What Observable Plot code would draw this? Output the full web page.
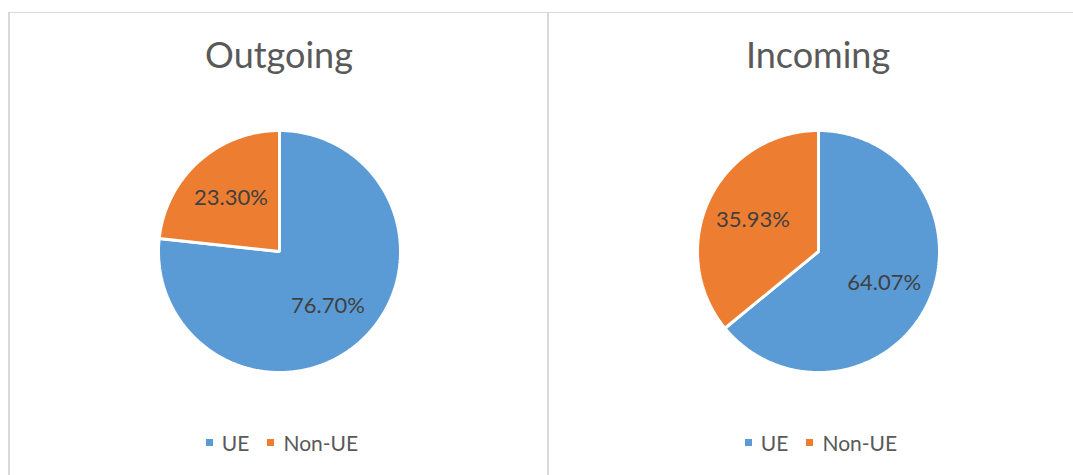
<!DOCTYPE html>
<html>
<head>
<meta charset="utf-8">
<script src="https://cdn.jsdelivr.net/npm/d3@7"></script>
<script src="https://cdn.jsdelivr.net/npm/@observablehq/plot@0.6"></script>
<style>
  html, body { margin: 0; padding: 0; background: #fff; }
  body { width: 1073px; height: 475px; overflow: hidden; position: relative; font-family: Lato, "Open Sans", sans-serif; }
  .panel { position: absolute; top: 12px; width: 540px; height: 480px; border-left: 2px solid #d9d9d9; border-top: 1px solid #d9d9d9; box-sizing: border-box; }
  .title { position: absolute; left: 0; width: 538px; top: 19px; text-align: center; font-size: 36px; color: #595959; }
  .chart { position: absolute; left: 0; top: 108px; }
  .legend { position: absolute; left: 3px; width: 538px; top: 412px; text-align: center; font-size: 21px; color: #595959; }
  .legend span.item { display: inline-flex; align-items: center; margin: 0 9px; }
  .legend span.sw { display: inline-block; width: 7px; height: 7px; margin-right: 9px; }
</style>
</head>
<body>
<script>
const categories = ["UE", "Non-UE"];
const colors = ["#5B9BD5", "#ED7D31"];
const titles = ["Outgoing", "Incoming"];
const outgoing = [76.70, 23.30];
const incoming = [64.07, 35.93];
const seriesValues = [outgoing, incoming];

const W = 538, H = 260, R = 121;

function pieChart(values) {
  const arcs = d3.pie().sort(null).value(d => d)(values);
  const pts = [];
  const labels = [];
  arcs.forEach((a, i) => {
    const cat = categories[i];
    pts.push({cat, x: 0, y: 0});
    const n = Math.max(4, Math.ceil((a.endAngle - a.startAngle) / 0.01));
    for (let k = 0; k <= n; k++) {
      const t = a.startAngle + (a.endAngle - a.startAngle) * k / n;
      pts.push({cat, x: Math.sin(t), y: Math.cos(t)});
    }
    const m = (a.startAngle + a.endAngle) / 2;
    labels.push({cat, x: 0.6 * Math.sin(m), y: 0.6 * Math.cos(m), text: values[i].toFixed(2) + "%"});
  });
  return Plot.plot({
    width: W, height: H,
    margin: 0,
    x: {domain: [-(W / 2) / R, (W / 2) / R], axis: null},
    y: {domain: [-(H / 2) / R, (H / 2) / R], axis: null},
    color: {domain: categories, range: colors},
    marks: [
      Plot.line(pts, {x: "x", y: "y", z: "cat", fill: "cat", stroke: "white", strokeWidth: 3, curve: "linear-closed", strokeLinejoin: "miter"}),
      Plot.text(labels, {x: "x", y: "y", text: "text", fill: "#404040", fontSize: 22, fontFamily: "Lato, sans-serif"})
    ]
  });
}

titles.forEach((t, p) => {
  const panel = document.createElement("div");
  panel.className = "panel";
  panel.style.left = (8 + p * 539) + "px";
  const title = document.createElement("div");
  title.className = "title";
  title.textContent = t;
  panel.appendChild(title);
  const chart = document.createElement("div");
  chart.className = "chart";
  chart.appendChild(pieChart(seriesValues[p]));
  panel.appendChild(chart);
  const legend = document.createElement("div");
  legend.className = "legend";
  categories.forEach((c, i) => {
    const item = document.createElement("span");
    item.className = "item";
    const sw = document.createElement("span");
    sw.className = "sw";
    sw.style.background = colors[i];
    item.appendChild(sw);
    item.appendChild(document.createTextNode(c));
    legend.appendChild(item);
  });
  panel.appendChild(legend);
  document.body.appendChild(panel);
});
</script>
</body>
</html>
